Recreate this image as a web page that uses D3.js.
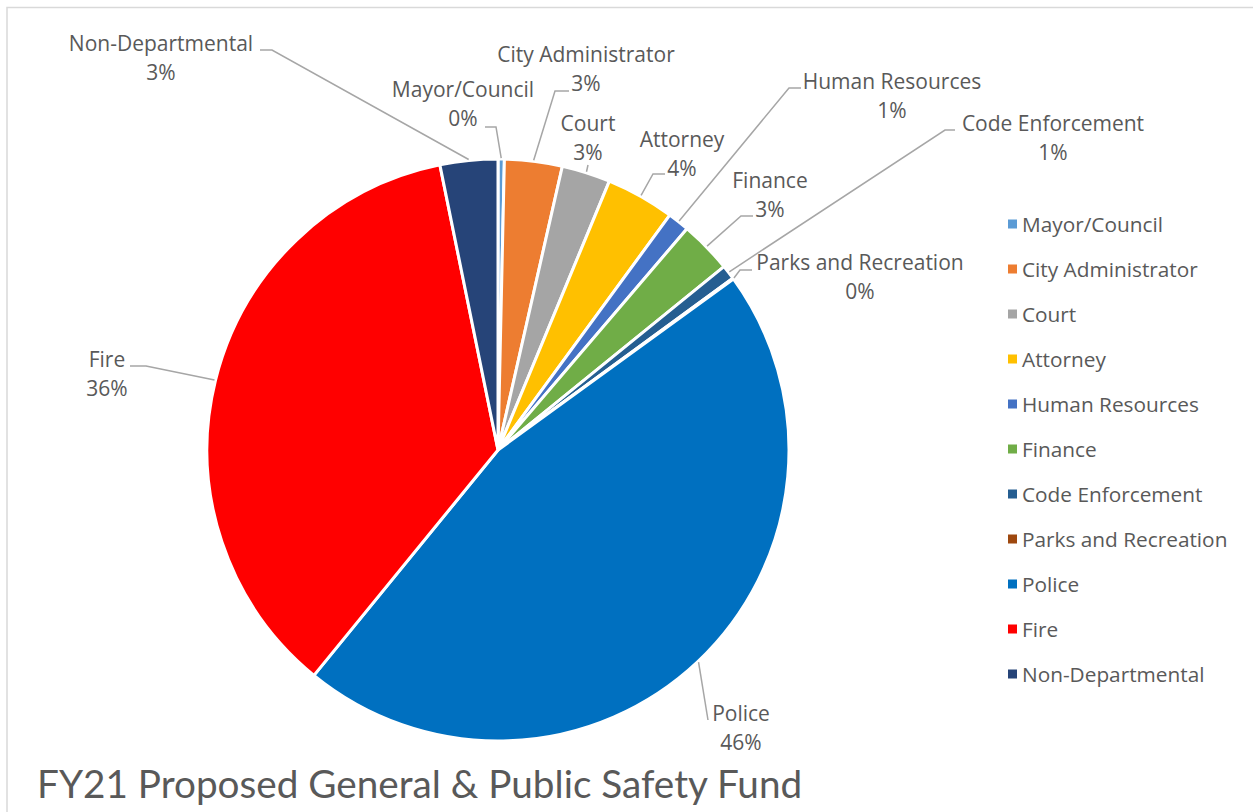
<!DOCTYPE html>
<html>
<head>
<meta charset="utf-8">
<script src="https://cdn.jsdelivr.net/npm/d3@7"></script>
<style>
  html, body { margin: 0; padding: 0; background: #fff; }
  svg { display: block; }
  text { font-family: "Open Sans", Lato, sans-serif; fill: #595959; }
  text.title { font-family: Lato, "Open Sans", sans-serif; }
</style>
</head>
<body>
<svg id="chart" width="1253" height="812"></svg>
<script>
// Departments, in the order they are drawn clockwise from 12 o'clock
const departments = [
  "Mayor/Council", "City Administrator", "Court", "Attorney", "Human Resources",
  "Finance", "Code Enforcement", "Parks and Recreation", "Police", "Fire", "Non-Departmental"
];
// Share of the fund (percent)
const shares = [0.35, 3.2, 2.7, 3.8, 1.2, 2.9, 0.8, 0.05, 45.9, 35.9, 3.2];
const sliceColors = [
  "#5B9BD5", "#ED7D31", "#A5A5A5", "#FFC000", "#4472C4",
  "#70AD47", "#255E91", "#9E480E", "#0070C0", "#FF0000", "#264478"
];
const chartTitle = "FY21 Proposed General & Public Safety Fund";

// Label placement: text centre (x, first-line y) and the leader's path near the text
const labelLayout = [
  { x: 463,  y: 90,  leader: [[485, 127], [496, 127]] },
  { x: 586,  y: 55,  leader: [[569, 91], [555, 91]] },
  { x: 588,  y: 124, leader: [[588, 165]] },
  { x: 682,  y: 140, leader: [[665, 174], [653, 174]] },
  { x: 892,  y: 82,  leader: [[801, 88], [789, 88]] },
  { x: 770,  y: 181, leader: [[753, 216], [741, 216]] },
  { x: 1053, y: 124, leader: [[955, 130], [945, 130]] },
  { x: 860,  y: 263, leader: [[752, 270], [740, 270]] },
  { x: 741,  y: 714, leader: [[708, 720]] },
  { x: 107,  y: 360, leader: [[130, 366], [146, 366]] },
  { x: 161,  y: 44,  leader: [[260, 50], [272, 50]] }
];

const svg = d3.select("#chart");
const W = 1253, H = 812;

// chart area outline
svg.append("path")
  .attr("d", `M7,${H} V7.5 H${W}`)
  .attr("fill", "none")
  .attr("stroke", "#D9D9D9")
  .attr("stroke-width", 1.5);

const cx = 498, cy = 450, radius = 291;
const total = d3.sum(shares);
const data = departments.map((name, i) => ({ name, value: shares[i], color: sliceColors[i], layout: labelLayout[i] }));

const pie = d3.pie().value(d => d.value).sort(null).startAngle(0).endAngle(2 * Math.PI);
const arcs = pie(data);
const arc = d3.arc().innerRadius(0).outerRadius(radius);

const g = svg.append("g").attr("transform", `translate(${cx},${cy})`);
g.selectAll("path.slice")
  .data(arcs)
  .join("path")
  .attr("class", "slice")
  .attr("d", arc)
  .attr("fill", d => d.data.color)
  .attr("stroke", "#fff")
  .attr("stroke-width", 3)
  .attr("stroke-linejoin", "round");

// leader lines: from the slice's outer edge at its mid-angle to the label
const edgePoint = d => {
  const a = (d.startAngle + d.endAngle) / 2;
  return [cx + (radius + 1) * Math.sin(a), cy - (radius + 1) * Math.cos(a)];
};
svg.append("g").selectAll("path.leader")
  .data(arcs)
  .join("path")
  .attr("class", "leader")
  .attr("d", d => d3.line()([...d.data.layout.leader, edgePoint(d)]))
  .attr("fill", "none")
  .attr("stroke", "#A6A6A6")
  .attr("stroke-width", 1.5);

// data labels: name and rounded percentage
const labels = svg.append("g").selectAll("text.lbl")
  .data(arcs)
  .join("text")
  .attr("class", "lbl")
  .attr("text-anchor", "middle")
  .attr("font-size", 21)
  .attr("x", d => d.data.layout.x)
  .attr("y", d => d.data.layout.y + 7);
labels.append("tspan").text(d => d.data.name);
labels.append("tspan")
  .attr("x", d => d.data.layout.x)
  .attr("dy", 29)
  .text(d => Math.round(d.data.value / total * 100) + "%");

// legend
const legend = svg.append("g").attr("transform", "translate(1008,224)");
const rows = legend.selectAll("g")
  .data(data)
  .join("g")
  .attr("transform", (d, i) => `translate(0,${i * 45})`);
rows.append("rect")
  .attr("x", 0).attr("y", -4.5)
  .attr("width", 9).attr("height", 9)
  .attr("fill", d => d.color);
rows.append("text")
  .attr("x", 14).attr("y", 7.5)
  .attr("font-size", 20.8)
  .text(d => d.name);

// title
svg.append("text")
  .attr("class", "title")
  .attr("x", 37).attr("y", 798)
  .attr("font-size", 38.7)
  .text(chartTitle);
</script>
</body>
</html>
